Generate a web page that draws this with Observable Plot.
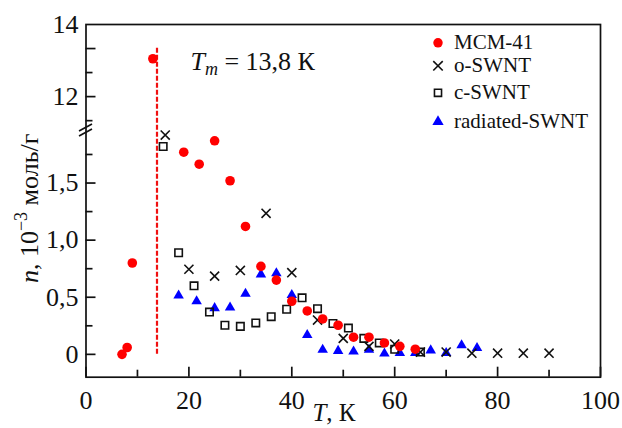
<!DOCTYPE html>
<html><head><meta charset="utf-8">
<script src="https://cdn.jsdelivr.net/npm/d3@7"></script>
<script src="https://cdn.jsdelivr.net/npm/@observablehq/plot@0.6"></script>
<style>
html,body{margin:0;padding:0;background:#fff;}
#chart svg{display:block;}
#chart svg, #chart svg text, #chart svg tspan { font-family: "Liberation Serif", serif !important; }
</style></head><body><div id="chart"></div>
<script>
// ---- data ----
const seriesNames = ["MCM-41", "o-SWNT", "c-SWNT", "radiated-SWNT"];
const mcmT = [7, 8, 9, 13, 19, 22, 25, 28, 31, 34, 37, 40, 43, 46, 49, 52, 55, 58, 61, 64];
const mcmN = [0.0, 0.06, 0.80, 13.05, 1.77, 1.665, 1.87, 1.52, 1.12, 0.77, 0.65, 0.465, 0.38, 0.31, 0.255, 0.15, 0.15, 0.10, 0.07, 0.045];
const oT = [15.4, 20, 25, 30, 35, 40, 45, 50, 55, 60, 65, 70, 75, 80, 85, 90];
const oN = [1.92, 0.745, 0.685, 0.735, 1.235, 0.715, 0.30, 0.14, 0.07, 0.09, 0.02, 0.02, 0.01, 0.01, 0.01, 0.01];
const cT = [15, 18, 21, 24, 27, 30, 33, 36, 39, 42, 45, 48, 51, 54, 57, 60, 65];
const cN = [1.82, 0.89, 0.60, 0.37, 0.255, 0.245, 0.275, 0.33, 0.395, 0.495, 0.40, 0.27, 0.23, 0.14, 0.10, 0.045, 0.02];
const rT = [18, 21.5, 25, 28, 31, 34, 37, 40, 43, 46, 49, 52, 55, 58, 61, 64, 67, 70, 73, 76];
const rN = [0.515, 0.465, 0.405, 0.41, 0.53, 0.70, 0.71, 0.52, 0.17, 0.04, 0.03, 0.025, 0.04, 0.008, 0.012, 0.012, 0.035, 0.012, 0.08, 0.055];
const Tm = 13.8;
const TmLineTop = 13.37;
const xTicksMajor = [0, 20, 40, 60, 80, 100];
const xTicksMinor = [10, 30, 50, 70, 90];
const xTickLabels = ["0", "20", "40", "60", "80", "100"];
const yTicksMajor = [0, 0.5, 1.0, 1.5, 12, 13.333];
const yTicksMinor = [0.25, 0.75, 1.25, 1.75, 11.333, 12.667];
const yLabelTicks = [0, 0.5, 1.0, 1.5, 12, 14];
const yTickLabels = ["0", "0,5", "1,0", "1,5", "12", "14"];
const yLower = [-0.2, 1.96];   // lower segment of broken axis
const yUpper = [11.06, 14];    // upper segment of broken axis

// ---- layout ----
const W = 622, H = 428, mL = 85.5, mR = 22, mT = 24, mB = 51.3, breakPx = 130;
const FONT = "Liberation Serif";
const zip = (xs, ys) => xs.map((x, i) => ({T: x, n: ys[i]}));
const xLab = new Map(xTicksMajor.map((d, i) => [d, xTickLabels[i]]));
const yLab = new Map(yLabelTicks.map((d, i) => [d, yTickLabels[i]]));
const AX = "#111";

const chart = Plot.plot({
  width: W, height: H,
  marginLeft: mL, marginRight: mR, marginTop: mT, marginBottom: mB,
  style: {fontFamily: FONT, fontSize: "26px", color: AX, background: "#fff"},
  x: {domain: [0, 100]},
  y: {type: "linear", domain: [yLower[0], yLower[1], yUpper[0], yUpper[1]], range: [H - mB, breakPx, breakPx, mT]},
  marks: [
    Plot.axisX(xTicksMajor, {tickSize: -10, strokeWidth: 1.7, tickFormat: () => "", label: null}),
    Plot.axisX(xTicksMinor, {tickSize: -7, strokeWidth: 1.7, tickFormat: () => "", label: null}),
    Plot.axisX(xTicksMajor, {tickSize: 0, tickPadding: 13.5, tickFormat: d => xLab.get(d), fontSize: 26, label: null}),
    Plot.axisY(yTicksMajor, {tickSize: -10, strokeWidth: 1.7, tickFormat: () => "", label: null}),
    Plot.axisY(yTicksMinor, {tickSize: -7, strokeWidth: 1.7, tickFormat: () => "", label: null}),
    Plot.axisY(yLabelTicks, {tickSize: 0, tickPadding: 7.5, tickFormat: d => yLab.get(d), fontSize: 26, label: null}),
    Plot.ruleX([Tm], {y1: 0, y2: TmLineTop, stroke: "#f01010", strokeWidth: 2.2, strokeDasharray: "5,2"}),
    Plot.dot(zip(rT, rN), {x: "T", y: "n", symbol: "triangle", r: 3.9, fill: "#0000ff", stroke: "none"}),
    Plot.dot(zip(cT, cN), {x: "T", y: "n", symbol: "square", r: 4.2, fill: "none", stroke: "#111", strokeWidth: 1.6}),
    Plot.dot(zip(oT, oN), {x: "T", y: "n", symbol: "times", r: 4.2, stroke: "#111", strokeWidth: 1.6}),
    Plot.dot(zip(mcmT, mcmN), {x: "T", y: "n", symbol: "circle", r: 4.8, fill: "#ff0000", stroke: "none"}),
    Plot.frame({stroke: AX, strokeWidth: 1.7})
  ]
});
document.getElementById("chart").appendChild(chart);

const sx = chart.scale("x"), sy = chart.scale("y");
const svg = d3.select(chart);
const g = svg.append("g").attr("font-family", FONT).attr("fill", AX).attr("text-anchor", "start");

// axis break marks
const bx = sx.apply(0);
[-2.5, 2.5].forEach(off => {
  g.append("line").attr("x1", bx - 6.5).attr("y1", breakPx + off + 3.5)
    .attr("x2", bx + 6.5).attr("y2", breakPx + off - 3.5)
    .attr("stroke", AX).attr("stroke-width", 1.7);
});

// y label
const yl = g.append("text").attr("text-anchor", "middle").attr("font-size", 26)
  .attr("transform", `translate(38,${(H - mB + mT) / 2 + 8}) rotate(-90)`);
yl.append("tspan").attr("font-style", "italic").text("n");
yl.append("tspan").text(", 10");
yl.append("tspan").attr("font-size", 18).attr("dy", -11).text("−3");
yl.append("tspan").attr("dy", 11).text(" моль/г");

// x label
const xl = g.append("text").attr("text-anchor", "middle").attr("font-size", 25)
  .attr("x", sx.apply(48.3)).attr("y", 421);
xl.append("tspan").attr("font-style", "italic").text("T");
xl.append("tspan").text(", К");

// annotation
const an = g.append("text").attr("text-anchor", "start").attr("font-size", 26)
  .attr("x", sx.apply(20.4)).attr("y", sy.apply(12.72));
an.append("tspan").attr("font-style", "italic").text("T");
an.append("tspan").attr("font-style", "italic").attr("font-size", 18).attr("dy", 5).text("m");
an.append("tspan").attr("dy", -5).text(" = 13,8 К");

// legend
const legSym = [d3.symbolCircle, d3.symbolTimes, d3.symbolSquare, d3.symbolTriangle];
const legSize = [70, 60, 50, 55];
const legFill = ["#ff0000", "none", "none", "#0000ff"];
const legStroke = ["none", "#111", "#111", "none"];
const legBase = [49.3, 72.3, 99.3, 128.3];
const lx = W - mR - 162;
seriesNames.forEach((name, i) => {
  g.append("path").attr("d", d3.symbol(legSym[i], legSize[i])())
    .attr("transform", `translate(${lx},${legBase[i] - 6.5})`)
    .attr("fill", legFill[i]).attr("stroke", legStroke[i]).attr("stroke-width", 1.6);
  g.append("text").attr("text-anchor", "start").attr("x", lx + 16).attr("y", legBase[i])
    .attr("font-size", 21).text(name);
});
</script>
</body></html>
